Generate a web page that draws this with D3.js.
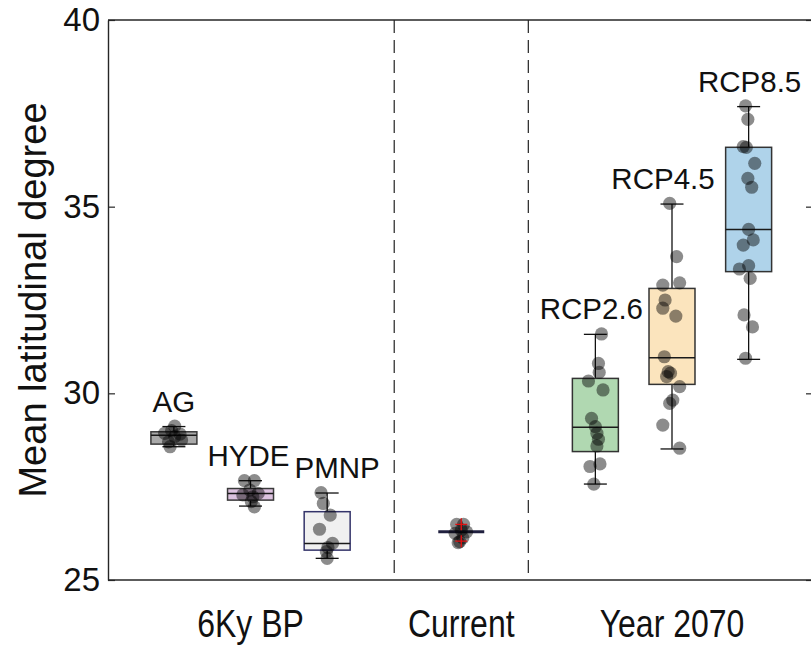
<!DOCTYPE html>
<html>
<head>
<meta charset="utf-8">
<script src="https://cdn.jsdelivr.net/npm/d3@7"></script>
<style>
  body { margin: 0; background: #fff; }
  svg { display: block; }
  text { font-family: "Liberation Sans", Arial, Helvetica, sans-serif; fill: #111; }
</style>
</head>
<body>
<svg id="chart" width="811" height="646"></svg>
<script>
// ---- data ----------------------------------------------------------------
const categories = ["AG", "HYDE", "PMNP", "Current", "RCP2.6", "RCP4.5", "RCP8.5"];
const annotated  = [true, true, true, false, true, true, true];
const groupLabels  = ["6Ky BP", "Current", "Year 2070"];
const groupMembers = [[0, 1, 2], [3], [4, 5, 6]];
const yTicks = [25, 30, 35, 40];

// box statistics (degrees latitude)
const whiskerLow  = [28.57, 26.98, 25.58, 26.29, 27.57, 28.51, 30.91];
const quartile1   = [28.64, 27.14, 25.80, 26.29, 28.44, 30.24, 33.26];
const medians     = [28.88, 27.32, 25.98, 26.29, 29.09, 30.95, 34.39];
const quartile3   = [28.97, 27.45, 26.83, 26.29, 30.40, 32.81, 36.59];
const whiskerHigh = [29.11, 27.66, 27.33, 26.29, 31.58, 35.07, 37.68];
const outliers    = [[], [], [], [26.49, 26.04], [], [], []];

// individual model values
const values = [
  [29.12, 29.00, 28.91, 28.93, 28.84, 28.70, 28.57, 28.75],
  [27.66, 27.66, 27.41, 27.32, 27.23, 27.10, 26.96, 27.28],
  [27.34, 27.05, 26.74, 26.36, 25.98, 25.87, 25.76, 25.58],
  [26.49, 26.49, 26.25, 26.29, 26.34, 26.03, 26.00, 26.13],
  [31.59, 30.80, 30.56, 30.33, 30.09, 29.33, 29.11, 28.93, 28.77, 28.59, 28.04, 28.11, 27.57],
  [35.09, 33.66, 32.90, 32.96, 32.50, 32.28, 32.07, 30.98, 30.58, 30.54, 30.45, 30.18, 29.82, 29.73, 29.15, 28.53],
  [37.70, 37.34, 36.61, 36.59, 36.16, 35.76, 35.52, 34.39, 34.11, 33.97, 33.33, 33.42, 33.08, 32.10, 31.78, 30.94]
];
// horizontal scatter offsets of the points (x units)
const jitter = [
  [0.01, -0.03, 0.08, -0.12, 0.01, -0.07, -0.05, 0.10],
  [-0.08, 0.05, -0.01, 0.10, 0.03, 0.01, 0.05, -0.10],
  [-0.08, -0.05, 0.04, -0.10, 0.07, 0.01, -0.01, 0.00],
  [-0.06, 0.03, -0.08, 0.07, 0.00, -0.02, -0.04, 0.02],
  [0.08, 0.04, 0.05, -0.09, 0.10, -0.05, 0.00, 0.02, 0.04, 0.02, -0.07, 0.06, -0.02],
  [-0.03, 0.06, -0.12, 0.10, -0.09, -0.12, 0.05, -0.10, -0.05, -0.02, -0.07, 0.10, 0.01, -0.03, -0.12, 0.10],
  [-0.04, -0.01, -0.07, -0.03, 0.08, -0.01, 0.04, 0.00, 0.06, -0.07, -0.12, 0.00, 0.02, -0.06, 0.05, -0.04]
];

// ---- layout & style ------------------------------------------------------
const slot = [1, 2, 3, 4.75, 6.5, 7.5, 8.5];
const dividers = [3.875, 5.625];
const boxWidth = 0.6;
const fills   = ["#a9a9a9", "#dcc2df", "#f0f0f0", "#ffffff", "#b0d8b1", "#fbe4bd", "#afd3ea"];
const strokes = ["#3a3a3a", "#3a3a3a", "#34346a", "#20203f", "#333333", "#333333", "#333333"];
const labelDx = [0, -2, 10, 0, -4, -9, 1];

const svg = d3.select("#chart");
const x = d3.scaleLinear().domain([0.14, 9.34]).range([108, 813]);
const y = d3.scaleLinear().domain([25, 40]).range([580, 20]);
const axisColor = "#262626";

// frame
svg.append("line").attr("x1", x.range()[0]).attr("x2", x.range()[1])
  .attr("y1", y(40)).attr("y2", y(40)).attr("stroke", axisColor).attr("stroke-width", 1.4);
svg.append("line").attr("x1", x.range()[0]).attr("x2", x.range()[1])
  .attr("y1", y(25)).attr("y2", y(25)).attr("stroke", axisColor).attr("stroke-width", 1.4);

// separators between periods
svg.append("g").selectAll("line").data(dividers).join("line")
  .attr("x1", d => x(d)).attr("x2", d => x(d))
  .attr("y1", y(40)).attr("y2", y(25))
  .attr("stroke", "#222").attr("stroke-width", 1.2).attr("stroke-dasharray", "13,7");

// left axis
const gy = svg.append("g").attr("transform", `translate(${x.range()[0]},0)`)
  .call(d3.axisLeft(y).tickValues(yTicks).tickSizeInner(-7).tickSizeOuter(0).tickPadding(8));
gy.select(".domain").attr("stroke", axisColor).attr("stroke-width", 1.4);
gy.selectAll(".tick line").attr("stroke", axisColor).attr("stroke-width", 1.2);
gy.selectAll(".tick text").attr("font-size", 33).attr("fill", "#222")
  .style("font-family", '"Liberation Sans", Arial, sans-serif');

// right axis (ticks only)
const gr = svg.append("g").attr("transform", `translate(${x.range()[1]},0)`)
  .call(d3.axisRight(y).tickValues(yTicks).tickSizeInner(-7).tickSizeOuter(0).tickFormat(""));
gr.select(".domain").attr("stroke", axisColor).attr("stroke-width", 1.4);
gr.selectAll(".tick line").attr("stroke", axisColor).attr("stroke-width", 1.2);

// y title
svg.append("text")
  .attr("transform", `translate(46,${(y(25) + y(40)) / 2}) rotate(-90)`)
  .attr("text-anchor", "middle").attr("font-size", 38).attr("fill", "#222")
  .text("Mean latitudinal degree");

// period labels
groupLabels.forEach((g, i) => {
  const cx = x(d3.mean(groupMembers[i], k => slot[k]));
  svg.append("text")
    .attr("transform", `translate(${cx},637) scale(0.82,1)`)
    .attr("text-anchor", "middle").attr("font-size", 39).attr("fill", "#111")
    .text(g);
});

// boxes
const half = boxWidth / 2;
const boxes = svg.append("g").selectAll("g").data(categories).join("g");
boxes.each(function (name, i) {
  const g = d3.select(this);
  const cx = slot[i];
  // whiskers
  g.append("line").attr("x1", x(cx)).attr("x2", x(cx))
    .attr("y1", y(quartile3[i])).attr("y2", y(whiskerHigh[i]))
    .attr("stroke", "#111").attr("stroke-width", 1.3);
  g.append("line").attr("x1", x(cx)).attr("x2", x(cx))
    .attr("y1", y(quartile1[i])).attr("y2", y(whiskerLow[i]))
    .attr("stroke", "#111").attr("stroke-width", 1.3);
  [whiskerHigh[i], whiskerLow[i]].forEach(v => {
    g.append("line").attr("x1", x(cx - half / 2)).attr("x2", x(cx + half / 2))
      .attr("y1", y(v)).attr("y2", y(v)).attr("stroke", "#111").attr("stroke-width", 1.3);
  });
  // box body
  const h = Math.max(y(quartile1[i]) - y(quartile3[i]), 0);
  if (h > 0) {
    g.append("rect")
      .attr("x", x(cx - half)).attr("width", x(cx + half) - x(cx - half))
      .attr("y", y(quartile3[i])).attr("height", h)
      .attr("fill", fills[i]).attr("stroke", strokes[i]).attr("stroke-width", 1.5);
  }
  // median
  g.append("line").attr("x1", x(cx - half)).attr("x2", x(cx + half))
    .attr("y1", y(medians[i])).attr("y2", y(medians[i]))
    .attr("stroke", h > 0 ? "#1a1a1a" : strokes[i]).attr("stroke-width", h > 0 ? 1.5 : 3);
});

// model points
const dots = svg.append("g");
values.forEach((vals, i) => {
  dots.selectAll(null).data(vals).join("circle")
    .attr("cx", (d, j) => x(slot[i] + jitter[i][j]))
    .attr("cy", d => y(d))
    .attr("r", 6.6)
    .attr("fill", "#000").attr("fill-opacity", 0.45);
});

// outliers (red plus markers)
outliers.forEach((vals, i) => {
  vals.forEach(v => {
    const px = x(slot[i]), py = y(v);
    svg.append("path").attr("d", `M${px - 6},${py}H${px + 6}M${px},${py - 6}V${py + 6}`)
      .attr("stroke", "#e01010").attr("stroke-width", 1.4).attr("fill", "none");
  });
});

// series annotations
categories.forEach((name, i) => {
  if (!annotated[i]) return;
  svg.append("text")
    .attr("x", x(slot[i]) + labelDx[i]).attr("y", y(whiskerHigh[i]) - 15)
    .attr("text-anchor", "middle").attr("font-size", 29.5).attr("fill", "#111")
    .text(name);
});
</script>
</body>
</html>
